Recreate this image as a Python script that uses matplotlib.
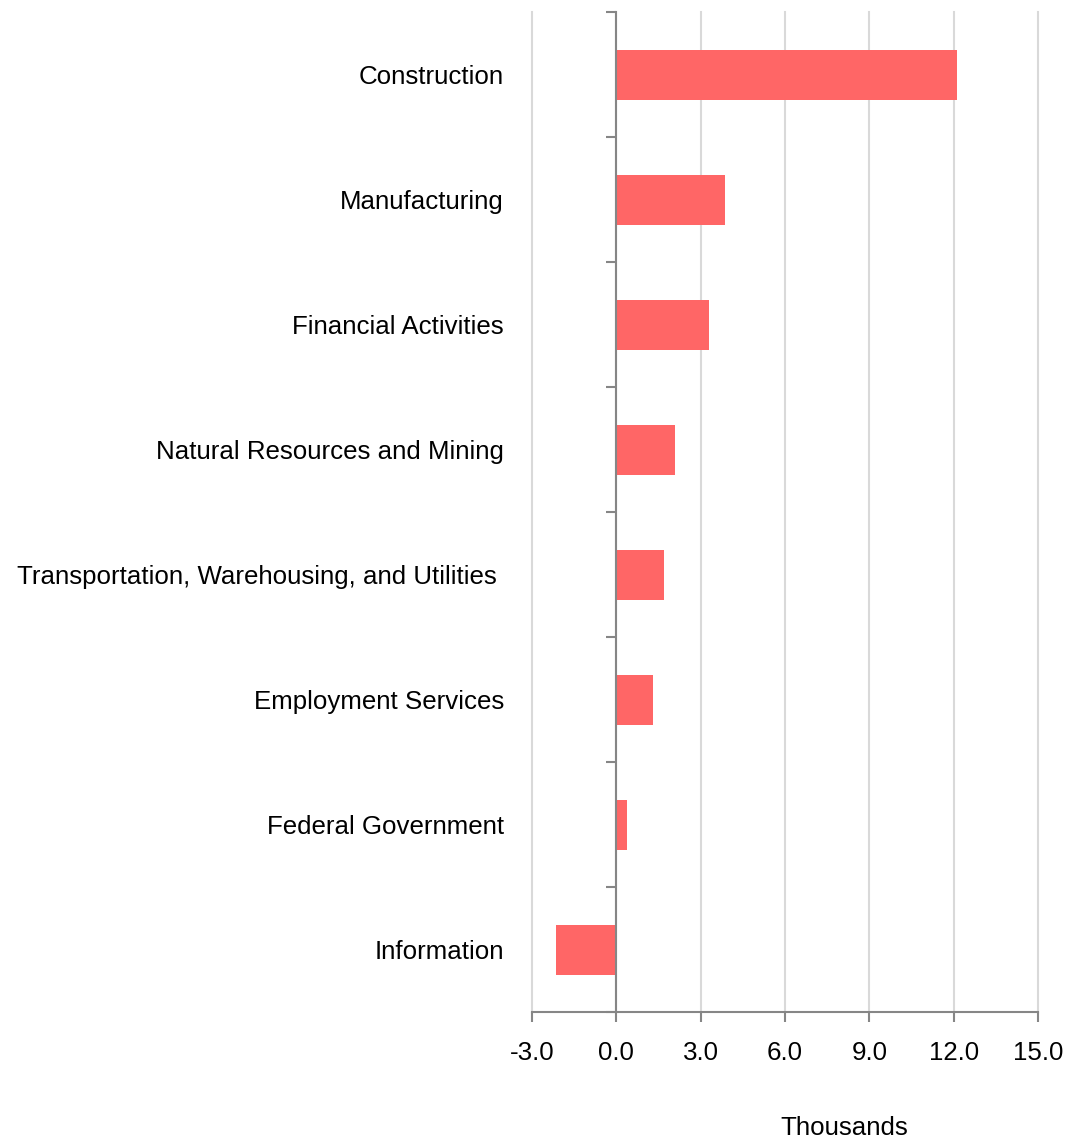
import matplotlib
matplotlib.use("Agg")
import matplotlib.pyplot as plt
import numpy as np

categories = ["Construction", "Manufacturing", "Financial Activities",
              "Natural Resources and Mining",
              "Transportation, Warehousing, and Utilities ",
              "Employment Services", "Federal Government", "Information"]
values = [12.13, 3.87, 3.28, 2.08, 1.68, 1.30, 0.38, -2.15]
xticks = [-3.0, 0.0, 3.0, 6.0, 9.0, 12.0, 15.0]

plt.rcParams['font.family'] = ['Liberation Sans', 'DejaVu Sans']
FS = 18.6

fig = plt.figure(figsize=(10.66, 11.4), dpi=100)
ax = fig.add_axes([532/1066, 1-1012/1140, (1038-532)/1066, 1000/1140])

n = len(categories)
y = np.arange(n)
ax.barh(y, values, height=0.4, color="#FF6666", zorder=3)
ax.set_ylim(n - 0.5, -0.5)
ax.set_xlim(-3, 15)

ax.set_xticks(xticks)
ax.set_xticklabels([f"{t:.1f}" for t in xticks], fontsize=FS)
ax.grid(axis='x', color='#d9d9d9', linewidth=1.5, zorder=0)
for gl in ax.get_xgridlines():
    gl.set_clip_on(False)

for s in ['top', 'right']:
    ax.spines[s].set_visible(False)
ax.spines['left'].set_position(('data', 0))
ax.spines['left'].set_color('#868686')
ax.spines['left'].set_linewidth(1.5)
ax.spines['left'].set_zorder(4)
ax.spines['bottom'].set_color('#868686')
ax.spines['bottom'].set_linewidth(1.5)

ax.set_yticks(y)
ax.set_yticklabels(categories, fontsize=FS)
ax.set_yticks(np.arange(-0.5, n, 1.0), minor=True)
ax.tick_params(axis='y', which='major', length=0, pad=81)
ax.tick_params(axis='y', which='minor', length=7.2, width=1.5, color='#868686', direction='out')
ax.tick_params(axis='x', which='major', length=7.2, width=1.5, color='#868686', direction='out', pad=14)

ax.set_xlabel("Thousands", fontsize=FS, va='center')
ax.xaxis.set_label_coords(0.617, -0.116)

fig.savefig("out.png", dpi=100)
